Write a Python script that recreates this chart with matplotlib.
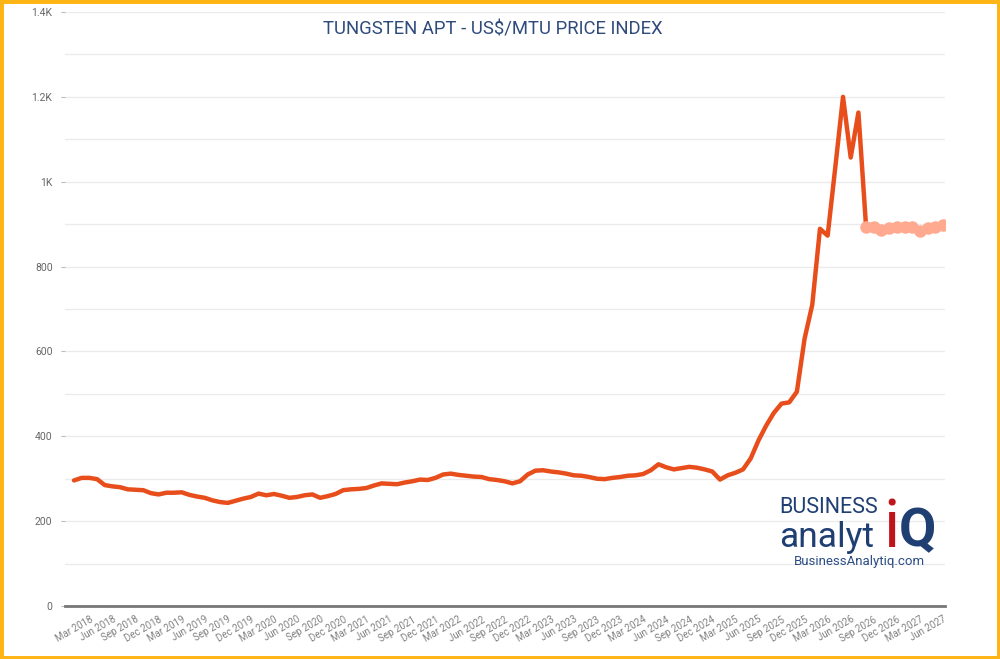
import numpy as np
import matplotlib.pyplot as plt
from matplotlib.patches import Rectangle

# monthly index, Jan 2018 .. Aug 2026 (actual) and Aug 2026 .. Jun 2027 (forecast)
actual = [296, 302, 302, 299, 285, 282, 280, 275, 274, 273, 266, 263,
          267, 267, 268, 262, 258, 255, 249, 245, 243, 248, 253, 257,
          265, 261, 264, 260, 255, 257, 261, 263, 255, 259, 264, 273,
          275, 276, 278, 284, 289, 288, 287, 291, 294, 298, 297, 302,
          310, 312, 309, 307, 305, 304, 299, 297, 294, 289, 294, 310,
          319, 320, 317, 315, 312, 308, 307, 304, 300, 299, 302, 304,
          307, 308, 311, 320, 334, 327, 322, 325, 328, 326, 322, 317,
          298, 308, 314, 322, 348, 390, 425, 455, 477, 480, 505, 630,
          710, 889, 873, 1035, 1200, 1057, 1163, 893]
forecast = [893, 894, 887, 891, 893, 894, 893, 885, 891, 893, 897]

months = ["Jan", "Feb", "Mar", "Apr", "May", "Jun",
          "Jul", "Aug", "Sep", "Oct", "Nov", "Dec"]
labels = [f"{months[i % 12]} {2018 + i // 12}" for i in range(114)]
tick_idx = list(range(2, 114, 3))

y_ticks = [0, 200, 400, 600, 800, 1000, 1200, 1400]
y_labels = ["0", "200", "400", "600", "800", "1K", "1.2K", "1.4K"]

x_act = np.arange(len(actual))
x_fc = np.arange(len(actual) - 1, len(actual) - 1 + len(forecast))

plt.rcParams['font.family'] = ['Roboto', 'DejaVu Sans']

fig = plt.figure(figsize=(10, 6.59), dpi=100)
ax = fig.add_axes([0.065, 0.0804, 0.88, 0.9014])

ax.plot(x_act, actual, color='#E84E1B', linewidth=3.2,
        solid_joinstyle='round', solid_capstyle='round', zorder=3)
ax.plot(x_fc, forecast, color='#FFAA90', linewidth=3, marker='o',
        markersize=8, zorder=4)

ax.set_xlim(-1.17, 113.26)
ax.set_ylim(0, 1400)
ax.set_yticks(y_ticks)
ax.set_yticklabels(y_labels)
ax.set_yticks(range(100, 1400, 200), minor=True)
ax.grid(True, which='both', axis='y', color='#EBEBEB', linewidth=1)
ax.set_axisbelow(True)

ax.set_xticks(tick_idx)
ax.set_xticklabels([labels[i] for i in tick_idx], rotation=30, ha='right',
                   rotation_mode='anchor', fontsize=7, color='#808080')
ax.tick_params(axis='x', length=0, pad=6)
ax.tick_params(axis='y', which='major', length=3, color='#BBBBBB',
               labelsize=7.5, labelcolor='#666666', pad=6)
ax.tick_params(axis='y', which='minor', length=0)

for s in ['top', 'right', 'left']:
    ax.spines[s].set_visible(False)
ax.spines['bottom'].set_color('#777777')
ax.spines['bottom'].set_linewidth(2)

fig.text(0.4925, 1 - 30 / 659, 'TUNGSTEN APT - US$/MTU PRICE INDEX',
         ha='center', va='center', fontsize=13.3, color='#2F4B7C')

# logo
blue = '#1F3F73'
fig.text(0.779, 1 - 513 / 659, 'BUSINESS', fontsize=15.5, color=blue,
         ha='left', va='baseline')
fig.text(0.779, 1 - 547 / 659, 'analyt', fontsize=25.5, color=blue,
         ha='left', va='baseline')
fig.text(0.8835, 1 - 547 / 659, 'i', fontsize=48, color='#C0141B',
         ha='left', va='baseline')
fig.text(0.8985, 1 - 546 / 659, 'Q', fontsize=39, color=blue,
         ha='left', va='baseline', fontweight='bold')
fig.text(0.859, 1 - 562 / 659, 'BusinessAnalytiq.com', fontsize=9.5,
         color='#2B4C84', ha='center', va='center')

fig.patches.append(Rectangle((0, 0), 1, 1, transform=fig.transFigure,
                             fill=False, edgecolor='#FDB515', linewidth=5))

fig.savefig('out.png', dpi=100)
